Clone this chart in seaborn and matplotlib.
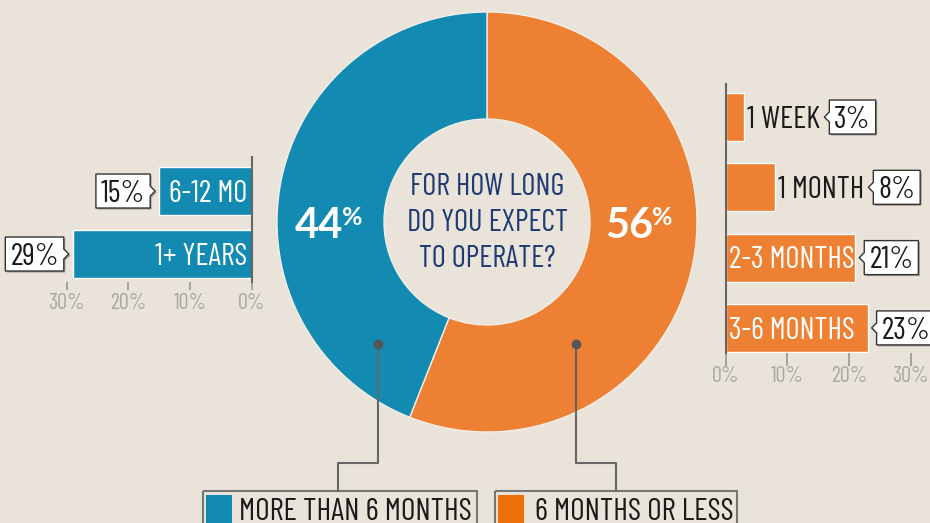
import matplotlib
matplotlib.use('Agg')
import matplotlib.pyplot as plt
import seaborn as sns
from matplotlib.patches import Polygon, Rectangle

# donut: share of businesses by expected operating time
donut_labels = ['6 MONTHS OR LESS', 'MORE THAN 6 MONTHS']
donut_values = [56, 44]

# left bars: more than 6 months
long_cats = ['6-12 MO', '1+ YEARS']
long_vals = [15, 29]

# right bars: 6 months or less
short_cats = ['1 WEEK', '1 MONTH', '2-3 MONTHS', '3-6 MONTHS']
short_vals = [3, 8, 21, 23]

tick_vals = [0, 10, 20, 30]
tick_labels = ['0%', '10%', '20%', '30%']

question = 'FOR HOW LONG\nDO YOU EXPECT\nTO OPERATE?'

BG = '#E9E3DA'
BLUE = '#128AB2'
ORANGE = '#ED8033'
ORANGE_KEY = '#EE7008'
NAVY = '#1F3B73'
GREY = '#A8A8A8'
LINE = '#666666'
NARROW = ['Barlow Condensed', 'DejaVu Sans']
BOLD = ['Lato', 'DejaVu Sans']

sns.set_theme(style='white')
plt.rcParams['font.family'] = NARROW
plt.rcParams['font.weight'] = 'normal'

W, H = 930, 523
fig = plt.figure(figsize=(W / 100, H / 100), dpi=100, facecolor=BG)


def px_axes(l, t, r, b):
    return fig.add_axes([l / W, 1 - b / H, (r - l) / W, (b - t) / H])


def style_bars(ax, side):
    ax.set_facecolor('none')
    for s in ax.spines.values():
        s.set_visible(False)
    ax.spines[side].set_visible(True)
    ax.spines[side].set_color(LINE)
    ax.spines[side].set_linewidth(1.5)
    ax.set_xticks(tick_vals, tick_labels)
    ax.set_yticks([])
    ax.set_xlabel('')
    ax.set_ylabel('')
    ax.tick_params(axis='x', bottom=True, direction='out', color='#9a9a9a',
                   labelcolor=GREY, labelsize=16)


# left chart (axis reversed, 0% on the right)
axL = px_axes(54.3, 157, 251.7, 282)
sns.barplot(x=long_vals, y=long_cats, orient='h', color=BLUE, saturation=1,
            width=0.76, ax=axL)
axL.set_xlim(32, 0)
axL.set_ylim(1.444, -0.54)
style_bars(axL, 'right')
axL.tick_params(axis='x', length=6, pad=2)

# right chart
axR = px_axes(725.7, 84, 929.3, 353)
sns.barplot(x=short_vals, y=short_cats, orient='h', color=ORANGE, saturation=1,
            width=0.683, ax=axR)
axR.set_xlim(0, 33)
axR.set_ylim(3.357, -0.47)
style_bars(axR, 'left')
axR.tick_params(axis='x', length=9, pad=0)

# overlay in pixel coordinates
ax0 = fig.add_axes([0, 0, 1, 1])
ax0.pie(donut_values, colors=[ORANGE, BLUE], startangle=270, counterclock=True,
        radius=210, center=(487, 222), frame=True,
        wedgeprops=dict(width=107, edgecolor='#F2EEE8', linewidth=1))
ax0.set_xlim(0, W)
ax0.set_ylim(H, 0)
ax0.set_axis_off()

fig.canvas.draw()
renderer = fig.canvas.get_renderer()

FS = 22
cap = 0.70 * FS * 100 / 72


def to_px(ax, x, y):
    return ax0.transData.inverted().transform(ax.transData.transform((x, y)))


def text_right(t):
    return t.get_window_extent(renderer).x1


def callout(xn, yc, txt, side):
    t = ax0.text(0, yc + cap / 2, txt, ha='center', va='baseline', fontsize=FS,
                 color='#1a1a1a', zorder=7)
    tw = t.get_window_extent(renderer).width
    bw, bh, n = tw + 10, 34, 5
    if side == 'right':
        x0 = xn + n
        x1 = x0 + bw
        pts = [(x0, yc - 5), (x0, yc - bh / 2), (x1, yc - bh / 2),
               (x1, yc + bh / 2), (x0, yc + bh / 2), (x0, yc + 5), (xn, yc)]
    else:
        x1 = xn - n
        x0 = x1 - bw
        pts = [(x1, yc - 5), (x1, yc - bh / 2), (x0, yc - bh / 2),
               (x0, yc + bh / 2), (x1, yc + bh / 2), (x1, yc + 5), (xn, yc)]
    t.set_x((x0 + x1) / 2)
    ax0.add_patch(Polygon([(px + 1.5, py + 1.5) for px, py in pts], closed=True,
                          fc='#a59f96', ec='none', zorder=5))
    ax0.add_patch(Polygon(pts, closed=True, fc='white', ec='#333333', lw=1, zorder=6))


# left labels
for i, (c, v) in enumerate(zip(long_cats, long_vals)):
    xz, yc = to_px(axL, 0, i)
    xe, _ = to_px(axL, v, i)
    ax0.text(xz - 4, yc + cap / 2, c, ha='right', va='baseline', fontsize=FS,
             color='white', zorder=4)
    callout(xe - 4, yc, f'{v}%', 'left')

# right labels
for i, (c, v) in enumerate(zip(short_cats, short_vals)):
    xz, yc = to_px(axR, 0, i)
    xe, _ = to_px(axR, v, i)
    if v > 10:
        t = ax0.text(xz + 3, yc + cap / 2, c, ha='left', va='baseline', fontsize=FS,
                     color='white', zorder=4)
    else:
        t = ax0.text(xe + 3, yc + cap / 2, c, ha='left', va='baseline', fontsize=FS,
                     color='#1a1a1a', zorder=4)
    callout(max(text_right(t), xe) + 4, yc, f'{v}%', 'right')

# donut labels
ax0.text(343, 238, f'{donut_values[1]}', ha='right', va='baseline', fontsize=30,
         fontweight='bold', color='white', family=BOLD)
ax0.text(342, 206, '%', ha='left', va='top', fontsize=18, fontweight='bold',
         color='white', family=BOLD)
ax0.text(653, 238, f'{donut_values[0]}', ha='right', va='baseline', fontsize=30,
         fontweight='bold', color='white', family=BOLD)
ax0.text(652, 206, '%', ha='left', va='top', fontsize=18, fontweight='bold',
         color='white', family=BOLD)
ax0.text(487, 223, question, ha='center', va='center', fontsize=22, color=NAVY,
         linespacing=1.36)

# connectors and legend
ax0.plot([378, 378, 338, 338], [344, 463, 463, 491], color=LINE, lw=1.5, zorder=3)
ax0.plot([576, 576, 616, 616], [344, 463, 463, 491], color=LINE, lw=1.5, zorder=3)
ax0.plot([378, 576], [344, 344], 'o', ms=6, color='#555555', zorder=4)

ax0.add_patch(Rectangle((203, 491), 273.5, 45, fill=False, ec='#777777', lw=1.5))
ax0.add_patch(Rectangle((495, 491), 241.5, 45, fill=False, ec='#777777', lw=1.5))
ax0.add_patch(Rectangle((206, 495), 26, 35, color=BLUE, lw=0))
ax0.add_patch(Rectangle((498, 495), 26, 35, color=ORANGE_KEY, lw=0))
ax0.text(239, 520, donut_labels[1], ha='left', va='baseline', fontsize=22.5, color='#1a1a1a')
ax0.text(535, 520, donut_labels[0], ha='left', va='baseline', fontsize=22.5, color='#1a1a1a')

fig.savefig('out.png', dpi=100, facecolor=BG)
